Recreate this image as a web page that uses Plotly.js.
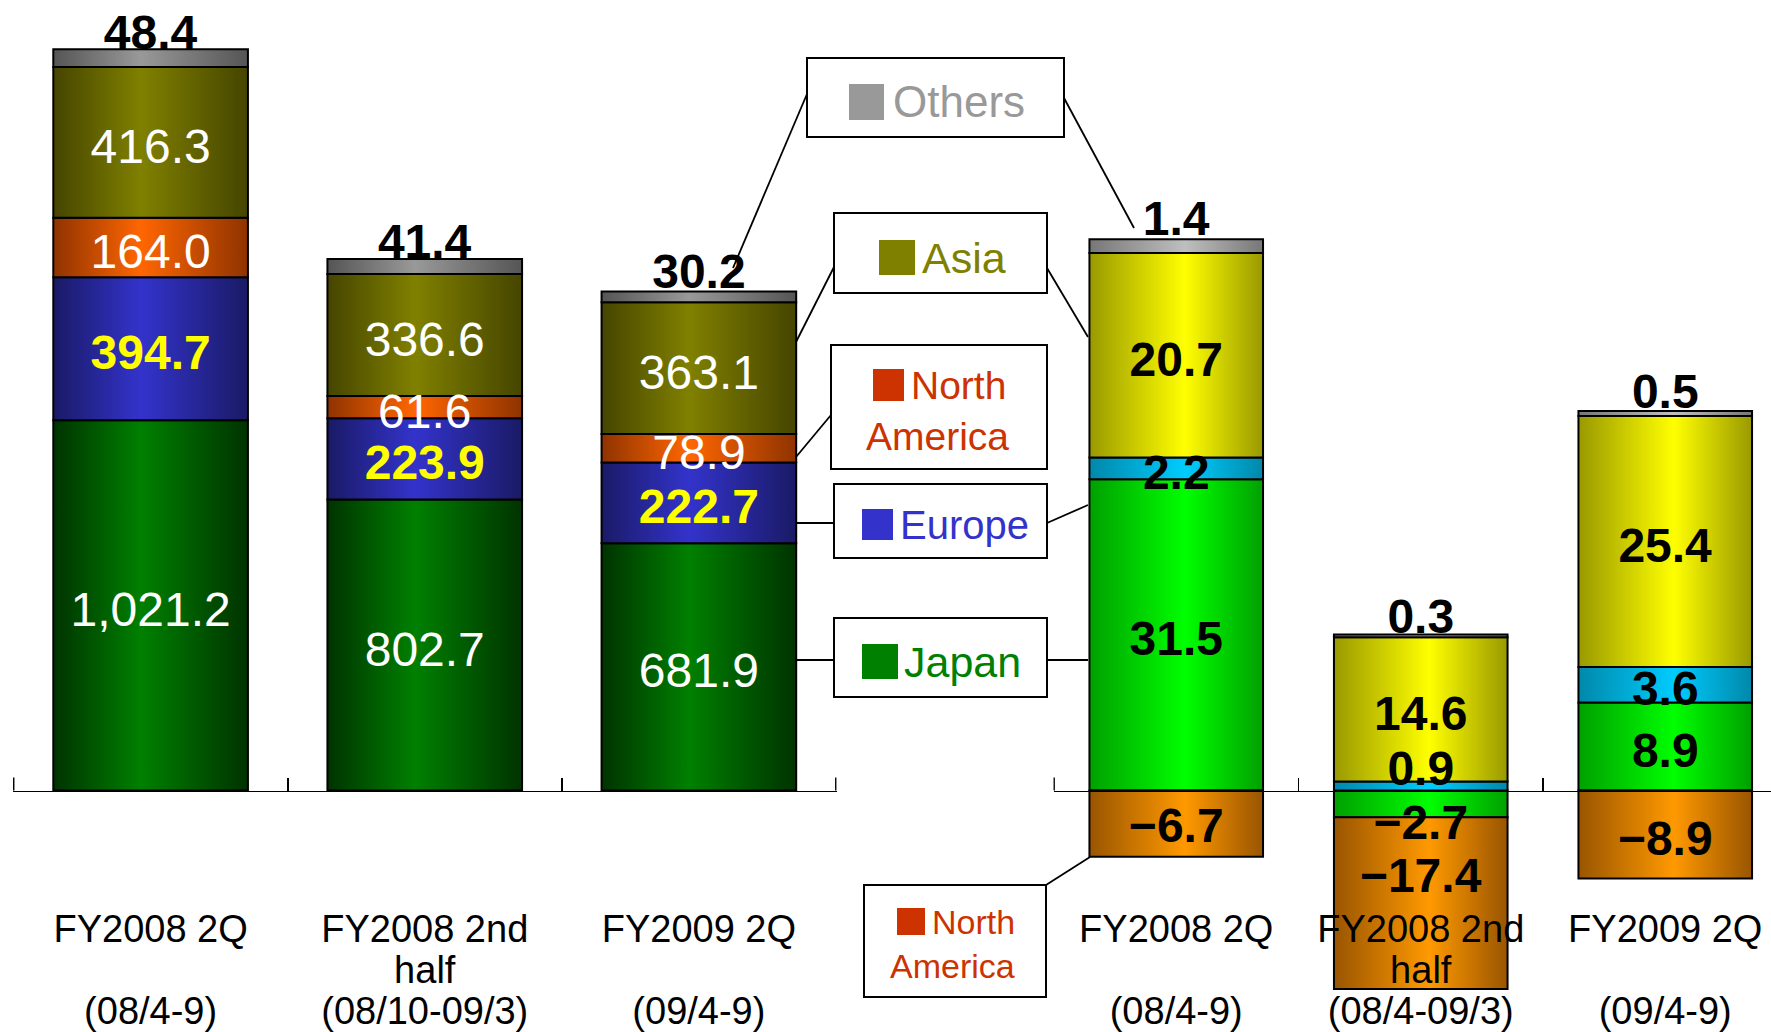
<!DOCTYPE html>
<html>
<head>
<meta charset="utf-8">
<script src="https://cdn.plot.ly/plotly-3.0.1.min.js"></script>
<style>
html, body { margin: 0; padding: 0; background: #ffffff; }
#chart { width: 1771px; height: 1032px; }
</style>
</head>
<body>
<div id="chart"></div>
<script>
// ---------------- DATA ----------------
const periods = ['FY2008 2Q', 'FY2008 2nd half', 'FY2009 2Q'];
const salesTickLines = [['FY2008 2Q', '', '(08/4-9)'], ['FY2008 2nd', 'half', '(08/10-09/3)'], ['FY2009 2Q', '', '(09/4-9)']];
const incomeTickLines = [['FY2008 2Q', '', '(08/4-9)'], ['FY2008 2nd', 'half', '(08/4-09/3)'], ['FY2009 2Q', '', '(09/4-9)']];
const regionNames = ['Japan', 'Europe', 'North America', 'Asia', 'Others'];

// Net sales by region
const salesJapan = [1021.2, 802.7, 681.9];
const salesEurope = [394.7, 223.9, 222.7];
const salesNorthAmerica = [164.0, 61.6, 78.9];
const salesAsia = [416.3, 336.6, 363.1];
const salesOthers = [48.4, 41.4, 30.2];

// Operating income by region
const incomeJapan = [31.5, -2.7, 8.9];
const incomeEurope = [2.2, 0.9, 3.6];
const incomeNorthAmerica = [-6.7, -17.4, -8.9];
const incomeAsia = [20.7, 14.6, 25.4];
const incomeOthers = [1.4, 0.3, 0.5];

// Callout legend labels
const legendLabels = ['Others', 'Asia', 'North', 'America', 'Europe', 'Japan', 'North', 'America'];

// ---------------- STYLE ----------------
const W = 1771, H = 1032;
const FONT = 'Liberation Sans, Arial, Helvetica, sans-serif';
const salesStyle = [
  { fill: '#008000', edge: '#003300', peak: 0.45, text: '#ffffff', weight: 'normal' },
  { fill: '#3333cc', edge: '#1a1a66', peak: 0.45, text: '#ffff00', weight: 'bold' },
  { fill: '#ff6600', edge: '#8f3300', peak: 0.45, text: '#ffffff', weight: 'normal' },
  { fill: '#808000', edge: '#454500', peak: 0.45, text: '#ffffff', weight: 'normal' },
  { fill: '#999999', edge: '#555555', peak: 0.45, text: '#000000', weight: 'bold' }
];
const incomeStyle = [
  { fill: '#00ff00', edge: '#00a000', peak: 0.55, text: '#000000', weight: 'bold' },
  { fill: '#00ccfe', edge: '#0088aa', peak: 0.55, text: '#000000', weight: 'bold' },
  { fill: '#ff9900', edge: '#995500', peak: 0.55, text: '#000000', weight: 'bold' },
  { fill: '#ffff00', edge: '#999900', peak: 0.55, text: '#000000', weight: 'bold' },
  { fill: '#bfbfbf', edge: '#777777', peak: 0.55, text: '#000000', weight: 'bold' }
];
// vertical nudges (px) of the value labels, per series, per period
const salesLabelNudge = [[4, 4, 4], [4, 4, 4], [4, 4, 4], [4, 4, 4], [13, 12, 10]];
const incomeLabelNudge = [[4, 19, 4], [4, -18, 4], [2, -28, 4], [4, 4, 4], [9, 12, 10]];
const legendColors = { 'Others': '#999999', 'Asia': '#808000', 'North America': '#cc3300', 'Europe': '#3333cc', 'Japan': '#008000' };

// legend layout in pixels
const legendBoxes = [[807, 1064, 58, 137], [834, 1047, 213, 293], [831, 1047, 345, 469], [834, 1047, 484, 558], [834, 1047, 618, 697], [864, 1046, 885, 997]];
const legendSquares = [
  { c: 'Others', b: [849, 884, 84, 120] }, { c: 'Asia', b: [879, 915, 240, 275] },
  { c: 'North America', b: [873, 904, 369, 401] }, { c: 'Europe', b: [862, 893, 509, 540] },
  { c: 'Japan', b: [862, 898, 644, 679] }, { c: 'North America', b: [897, 925, 908, 935] }
];
const legendTextPos = [
  { c: 'Others', x: 892, y: 102, s: 44 }, { c: 'Asia', x: 921, y: 258, s: 43 },
  { c: 'North America', x: 910, y: 385, s: 39 }, { c: 'North America', x: 865, y: 436, s: 39 },
  { c: 'Europe', x: 899, y: 525, s: 40 }, { c: 'Japan', x: 903, y: 662, s: 43 },
  { c: 'North America', x: 931, y: 922, s: 34 }, { c: 'North America', x: 889, y: 966, s: 34 }
];
// connector lines in pixels
const connectors = [
  [807, 94, 733, 268], [1064, 98, 1134, 228],
  [834, 267, 796, 342], [1047, 268, 1088, 337],
  [831, 415, 796, 457],
  [797, 523, 834, 523], [1047, 523, 1088, 505],
  [797, 660, 834, 660], [1047, 660, 1088, 660],
  [1046, 885, 1090, 857]
];

const px = x => x / W;
const py = y => 1 - y / H;
const zeroPos = py(790.5);

function fmt(v) {
  const s = Math.abs(v).toLocaleString('en-US', { minimumFractionDigits: 1, maximumFractionDigits: 1 });
  return (v < 0 ? '\u2212' : '') + s;
}

function tickText(lines) {
  return lines.map(l => '<span style="font-size:38px">' + (l || '\u00a0') + '</span>').join('<br>');
}

function makeTrace(name, vals, st, isTop, xa, ya, nudge) {
  return {
    type: 'bar', name: name, x: periods, y: vals, xaxis: xa, yaxis: ya,
    marker: { color: st.fill, line: { color: '#000000', width: 2 } },
    text: vals.map(fmt), texttemplate: '%{text}',
    textposition: isTop ? 'outside' : 'inside',
    insidetextanchor: 'middle', textangle: 0, constraintext: 'none', cliponaxis: false,
    textfont: { family: FONT, size: 48, color: st.text, weight: st.weight },
    meta: { dy: nudge },
    hoverinfo: 'skip'
  };
}

const salesSeries = [salesJapan, salesEurope, salesNorthAmerica, salesAsia, salesOthers];
const incomeSeries = [incomeJapan, incomeEurope, incomeNorthAmerica, incomeAsia, incomeOthers];
const traces = [];
salesSeries.forEach((v, i) => traces.push(makeTrace(regionNames[i], v, salesStyle[i], i === 4, 'x', 'y', salesLabelNudge[i])));
incomeSeries.forEach((v, i) => traces.push(makeTrace(regionNames[i], v, incomeStyle[i], i === 4, 'x2', 'y2', incomeLabelNudge[i])));

const axisCommon = {
  type: 'category', anchor: 'free', position: zeroPos,
  showline: true, linecolor: '#000000', linewidth: 1.5,
  ticks: 'inside', ticklen: 13, tickwidth: 1.8, tickcolor: '#000000', tickson: 'boundaries',
  showgrid: false, zeroline: false, tickmode: 'array', tickvals: periods,
  tickfont: { family: FONT, size: 31.5, color: '#000000' },
  ticklabelstandoff: 112, fixedrange: true
};

const shapes = [];
// category-boundary ticks at the axis ends
[['x', -0.5], ['x', 2.5], ['x2', -0.5]].forEach(([xr, xv]) => shapes.push({
  type: 'line', xref: xr, yref: 'paper', x0: xv, x1: xv, y0: zeroPos, y1: zeroPos + 13 / H,
  line: { color: '#000000', width: 1.8 }
}));
connectors.forEach(c => shapes.push({
  type: 'line', xref: 'paper', yref: 'paper',
  x0: px(c[0]), y0: py(c[1]), x1: px(c[2]), y1: py(c[3]),
  line: { color: '#000000', width: 1.8 }
}));
legendBoxes.forEach(b => shapes.push({
  type: 'rect', xref: 'paper', yref: 'paper',
  x0: px(b[0]), x1: px(b[1]), y0: py(b[3]), y1: py(b[2]),
  fillcolor: '#ffffff', line: { color: '#000000', width: 2 }
}));
legendSquares.forEach(sq => shapes.push({
  type: 'rect', xref: 'paper', yref: 'paper',
  x0: px(sq.b[0]), x1: px(sq.b[1]), y0: py(sq.b[3]), y1: py(sq.b[2]),
  fillcolor: legendColors[sq.c], line: { width: 0 }
}));

const annotations = legendLabels.map((t, i) => {
  const p = legendTextPos[i];
  return {
    xref: 'paper', yref: 'paper', x: px(p.x), y: py(p.y),
    xanchor: 'left', yanchor: 'middle', showarrow: false, borderpad: 0,
    text: t, font: { family: FONT, size: p.s, color: legendColors[p.c] }
  };
});

const layout = {
  width: W, height: H, margin: { l: 0, r: 0, t: 0, b: 0 },
  paper_bgcolor: '#ffffff', plot_bgcolor: 'rgba(0,0,0,0)',
  showlegend: false, barmode: 'relative', bargap: 0.29,
  font: { family: FONT, color: '#000000' },
  xaxis: Object.assign({}, axisCommon, { domain: [px(13), px(836.5)], range: [-0.502, 2.502], ticktext: salesTickLines.map(tickText) }),
  xaxis2: Object.assign({}, axisCommon, { domain: [px(1053.5), 1], range: [-0.502, 2.4325], ticktext: incomeTickLines.map(tickText) }),
  yaxis: { domain: [0, 1], anchor: 'x', range: [-(H - 790.5) / 0.3625, 790.5 / 0.3625], visible: false, fixedrange: true },
  yaxis2: { domain: [0, 1], anchor: 'x2', range: [-(H - 790.5) / 9.88, 790.5 / 9.88], visible: false, fixedrange: true },
  annotations: annotations,
  shapes: shapes
};

function hexToRgbKey(hex) {
  const n = parseInt(hex.slice(1), 16);
  return 'rgb(' + ((n >> 16) & 255) + ',' + ((n >> 8) & 255) + ',' + (n & 255) + ')';
}

const gd = document.getElementById('chart');
Plotly.newPlot(gd, traces, layout, { staticPlot: true, displayModeBar: false }).then(() => {
  const ns = 'http://www.w3.org/2000/svg';
  const svg = gd.querySelector('svg.main-svg');
  let defs = svg.querySelector('defs');
  if (!defs) { defs = document.createElementNS(ns, 'defs'); svg.insertBefore(defs, svg.firstChild); }
  const map = {};
  salesStyle.concat(incomeStyle).forEach((s, i) => {
    const g = document.createElementNS(ns, 'linearGradient');
    g.setAttribute('id', 'barGrad' + i);
    g.setAttribute('x1', '0'); g.setAttribute('y1', '0'); g.setAttribute('x2', '1'); g.setAttribute('y2', '0');
    [[0, s.edge], [s.peak, s.fill], [1, s.edge]].forEach(([o, c]) => {
      const st = document.createElementNS(ns, 'stop');
      st.setAttribute('offset', o); st.setAttribute('stop-color', c);
      g.appendChild(st);
    });
    defs.appendChild(g);
    map[hexToRgbKey(s.fill)] = 'barGrad' + i;
  });
  gd.querySelectorAll('g.point path').forEach(p => {
    const key = (p.style.fill || '').replace(/\s/g, '');
    if (map[key]) p.style.fill = 'url(#' + map[key] + ')';
  });
  // bring bar labels above all bar segments, with small vertical nudges
  gd.querySelectorAll('g.barlayer').forEach(layer => {
    const top = document.createElementNS(ns, 'g');
    layer.querySelectorAll('g.trace.bars').forEach(tg => {
      const cd = tg.__data__;
      const tr = cd && cd[0] && cd[0].trace;
      const dy = (tr && tr.meta && tr.meta.dy) || [];
      tg.querySelectorAll('g.point').forEach((pg, k) => {
        const t = pg.querySelector('text.bartext');
        if (!t) return;
        const idx = (pg.__data__ && pg.__data__.i !== undefined) ? pg.__data__.i : k;
        const w = document.createElementNS(ns, 'g');
        w.setAttribute('transform', 'translate(0,' + (dy[idx] || 0) + ')');
        w.appendChild(t);
        top.appendChild(w);
      });
    });
    layer.appendChild(top);
  });
});
</script>
</body>
</html>
